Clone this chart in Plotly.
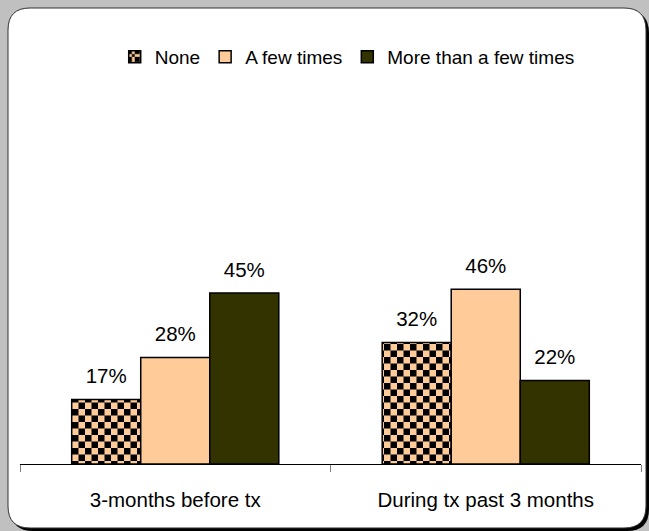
import plotly.graph_objects as go

categories = ["3-months before tx", "During tx past 3 months"]
series_names = ["None", "A few times", "More than a few times"]
none_vals = [0.17, 0.32]
few_vals = [0.28, 0.46]
more_vals = [0.45, 0.22]

W, H = 649, 531
PEACH = "#FFCC99"
OLIVE = "#333300"


def px_x(v):
    return v / W


def px_y(v):
    return 1 - v / H


def rounded_rect(x0, y0, x1, y1, r):
    """SVG path (paper units) for a rectangle with rounded corners, given in pixels."""
    pts = [
        ("M", x0 + r, y0), ("L", x1 - r, y0), ("Q", x1, y0, x1, y0 + r),
        ("L", x1, y1 - r), ("Q", x1, y1, x1 - r, y1),
        ("L", x0 + r, y1), ("Q", x0, y1, x0, y1 - r),
        ("L", x0, y0 + r), ("Q", x0, y0, x0 + r, y0),
    ]
    out = []
    for p in pts:
        cmd, coords = p[0], p[1:]
        xy = []
        for i in range(0, len(coords), 2):
            xy.append(f"{px_x(coords[i]):.5f},{px_y(coords[i + 1]):.5f}")
        out.append(cmd + " ".join(xy))
    return " ".join(out) + " Z"


fig = go.Figure()

# checkerboard tile for the "None" bars
checker = "M0,0H6.5V6.5H0Z M6.5,6.5H13V13H6.5Z"
styles = [
    dict(color=PEACH, pattern=dict(path=checker, fgcolor="black", bgcolor=PEACH,
                                   size=13, solidity=1, fillmode="replace")),
    dict(color=PEACH),
    dict(color=OLIVE),
]

for name, vals, mk, grp in zip(series_names, [none_vals, few_vals, more_vals], styles, "abc"):
    fig.add_trace(go.Bar(
        x=categories, y=vals, name=name, offsetgroup=grp,
        marker=dict(**mk, line=dict(color="black", width=1.5)),
    ))

# value labels, grouped the same way as the bars
for vals, grp in zip([none_vals, few_vals, more_vals], "abc"):
    fig.add_trace(go.Scatter(
        x=categories, y=vals, offsetgroup=grp, mode="markers+text",
        marker=dict(size=16, opacity=0),
        text=[f"{v * 100:.0f}%" for v in vals], textposition="top center",
        textfont=dict(size=20.5, color="black", family="Liberation Sans, Arial"),
        showlegend=False, hoverinfo="skip", cliponaxis=False,
    ))

fig.update_layout(
    width=W, height=H,
    margin=dict(l=0, r=0, t=0, b=0),
    paper_bgcolor="#C0C0C0",
    plot_bgcolor="rgba(0,0,0,0)",
    barmode="group", bargap=0.333, bargroupgap=0,
    scattermode="group", scattergap=0.333,
    font=dict(family="Liberation Sans, Arial", color="black"),
    legend=dict(
        orientation="h", x=0.535, y=px_y(57), xanchor="center", yanchor="middle",
        font=dict(size=19), bgcolor="rgba(0,0,0,0)",
    ),
    shapes=[
        dict(type="path", path=rounded_rect(11, 11, 649, 531, 22), xref="paper", yref="paper",
             fillcolor="black", line=dict(width=0), layer="below"),
        dict(type="path", path=rounded_rect(8, 8, 646, 528, 22), xref="paper", yref="paper",
             fillcolor="white", line=dict(color="#303030", width=1), layer="below"),
    ],
)

fig.update_xaxes(
    domain=[px_x(20), px_x(641)],
    showline=True, linecolor="black", linewidth=1,
    ticks="outside", tickson="boundaries", ticklen=7, tickcolor="#808080",
    tickfont=dict(size=20.5), ticklabelstandoff=17,
    showgrid=False, zeroline=False,
)
fig.update_yaxes(
    domain=[px_y(464), px_y(84)], range=[0, 1],
    visible=False, showgrid=False, zeroline=False,
)

fig.write_html("out.html")
